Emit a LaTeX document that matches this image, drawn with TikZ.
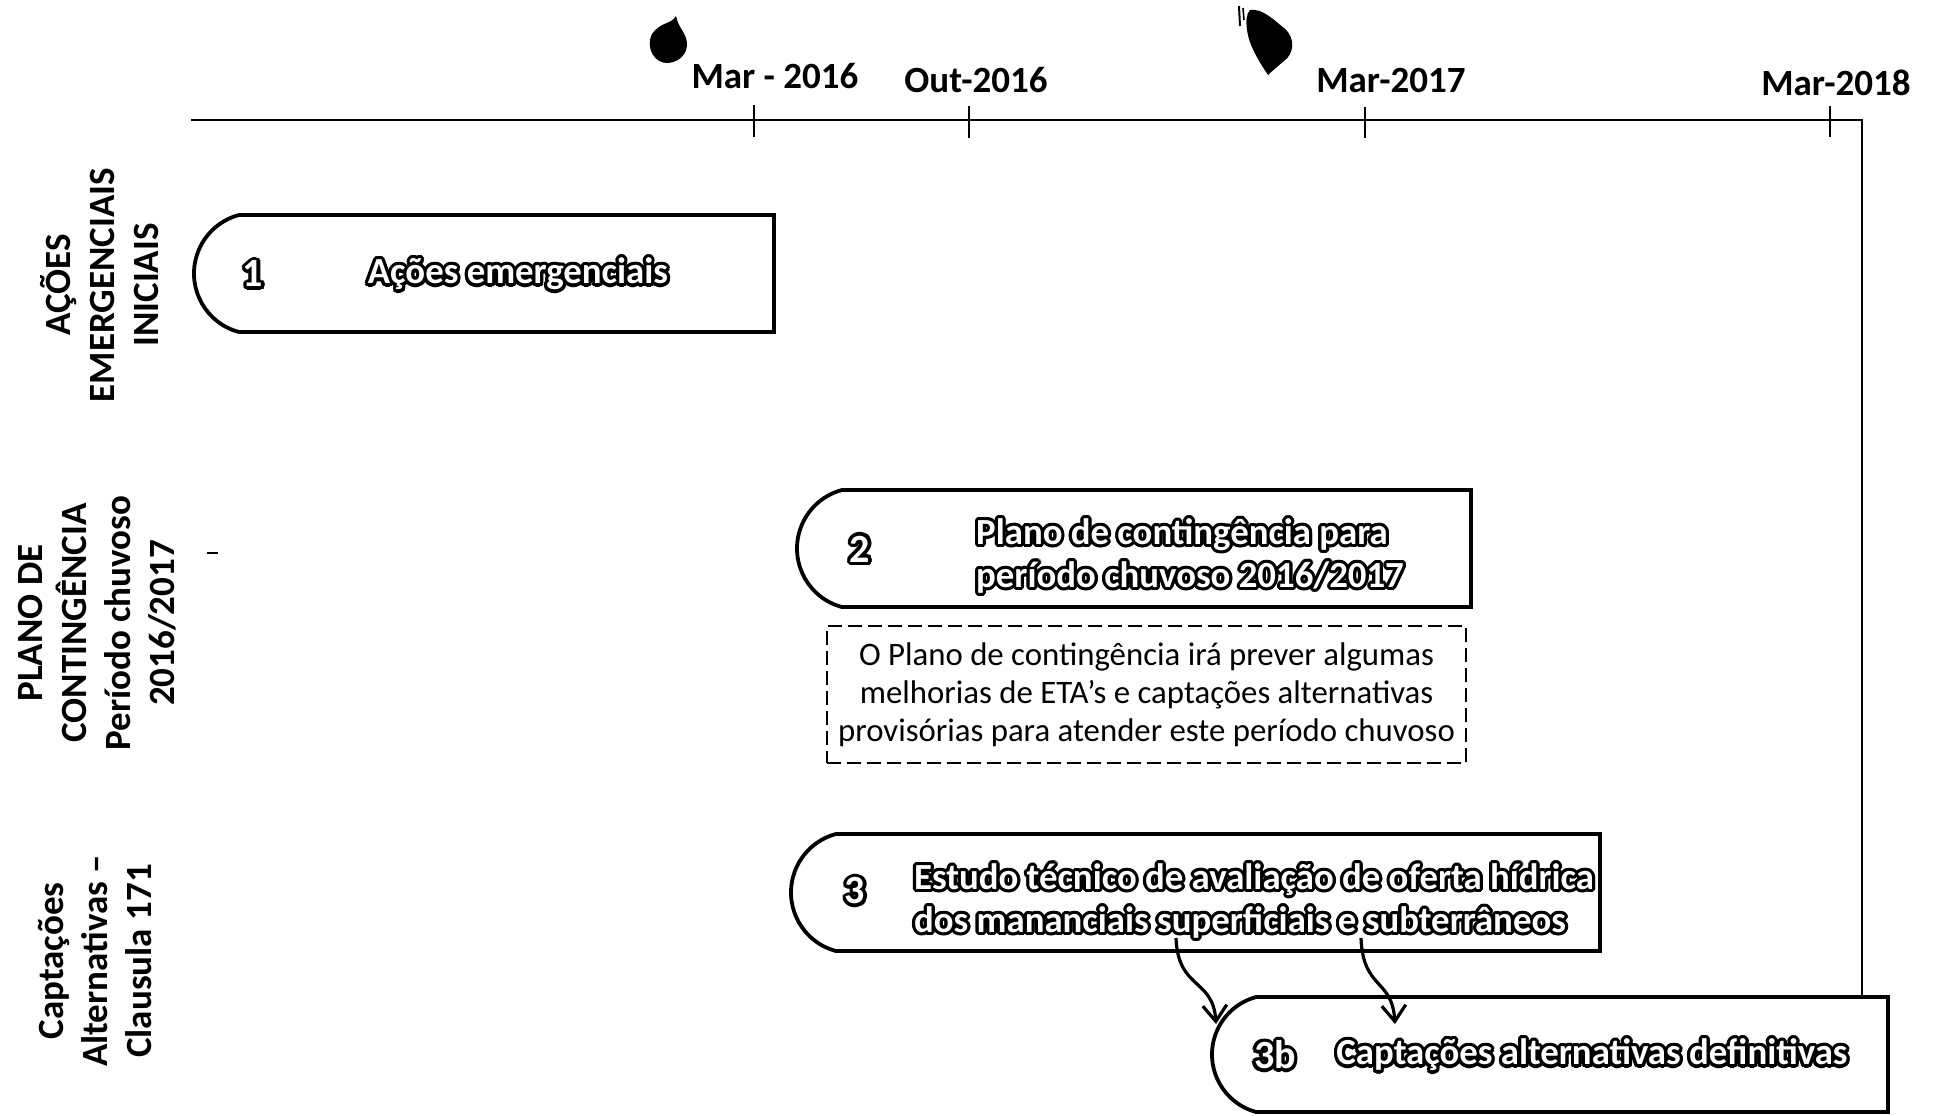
\documentclass[tikz,border=0pt]{standalone}
\usepackage{fontspec}
\setmainfont{Carlito}
\usetikzlibrary{shapes.misc,arrows.meta}

\tikzset{
  stagebox/.style={rounded rectangle, rounded rectangle right arc=none,
    rounded rectangle arc length=150, draw, line width=1.9pt,
    minimum height=58.5pt, inner sep=0pt},
  oltext/.style={font=\fontsize{18.4}{21.5}\selectfont\bfseries, inner sep=0pt},
  lanelabel/.style={rotate=90, align=center, font=\fontsize{18.5}{22}\selectfont\bfseries},
  datelabel/.style={font=\fontsize{18.5}{22}\selectfont\bfseries, inner sep=0pt},
  timeline/.style={line width=1.1pt},
  tickmark/.style={line width=1.4pt},
  notebox/.style={draw, line width=0.8pt, dash pattern=on 7pt off 3pt, align=center,
    font=\fontsize{16.4}{19}\selectfont, minimum width=319.5pt, minimum height=68.5pt},
  flow/.style={line width=1.6pt, -{Straight Barb[length=8pt,width=12pt,line width=1.6pt]}}
}

% white lettering with a black rim: black copies around the white text
\newcommand\outlined[4][center]{%
  \foreach \ang in {0,22.5,...,337.5}{%
    \node[oltext,align=#1,text=black] at ([shift={(\ang:1.6pt)}]#3) {#4};}%
  \node[oltext,align=#1,text=white] (#2) at (#3) {#4};}

\begin{document}
\begin{tikzpicture}[x=0.5pt,y=-0.5pt]
\fill[white] (0,0) rectangle (1935,1115);
\useasboundingbox (0,0) rectangle (1935,1115);

% ink blots above the time axis
\fill (676,16) .. controls (672,24) and (660,22) .. (652,34)
  .. controls (645,48) and (655,64) .. (668,63)
  .. controls (682,62) and (690,50) .. (686,38)
  .. controls (683,30) and (678,26) .. (676,16) -- cycle;
\fill (1250,10) .. controls (1262,8) and (1274,20) .. (1284,28)
  .. controls (1296,38) and (1294,54) .. (1284,61)
  .. controls (1277,67) and (1272,71) .. (1268,75)
  .. controls (1258,60) and (1249,45) .. (1247,30)
  .. controls (1246,22) and (1246,14) .. (1250,10) -- cycle;
\draw[line width=1pt] (1239,6) -- (1240,26);
\draw[line width=0.8pt] (1243,8) -- (1244,20);

% stage boxes
\node[stagebox, minimum width=290pt] (b1) at (484,273.5) {};
\node[stagebox, minimum width=337pt] (b2) at (1134,548.5) {};
\node[stagebox, minimum width=404.5pt] (b3) at (1195.5,892.5) {};
\node[stagebox, minimum width=338pt, minimum height=57.5pt] (b3b) at (1550,1054.5) {};

% time axis
\coordinate (tl0) at (191,120);
\coordinate (tlend) at (1862,120);
\draw[timeline] (tl0) -- (tlend) -- (tlend |- b3b.north);
\draw[tickmark] (754,105) -- (754,137);
\draw[tickmark] (969,106) -- (969,138);
\draw[tickmark] (1365,107) -- (1365,138);
\draw[tickmark] (1830,106) -- (1830,137);

\node[datelabel] (d1) at (775,76) {Mar - 2016};
\node[datelabel] (d2) at (976,80) {Out-2016};
\node[datelabel] (d3) at (1391,80) {Mar-2017};
\node[datelabel] (d4) at (1836,83) {Mar-2018};

% lane titles
\node[lanelabel] (lane1) at (100,285) {AÇÕES\\EMERGENCIAIS\\INICIAIS};
\node[lanelabel] (lane2) at (97,623) {PLANO DE\\CONTINGÊNCIA\\Período chuvoso\\2016/2017};
\node[lanelabel] (lane3) at (95,961) {Captações\\Alternativas –\\Clausula 171};
\draw[line width=0.8pt] (207,553) -- (218,553);

% box contents
\coordinate (n1) at (253,274);
\coordinate (t1) at (518,274);
\coordinate (n2) at (860,549);
\coordinate (t2) at (1190,556);
\coordinate (n3) at (855,891);
\coordinate (t3) at (1254,901);
\coordinate (n3b) at (1275,1055);
\coordinate (t3b) at (1592,1055);
\outlined{n1txt}{n1}{\fontsize{20}{22}\selectfont 1}
\outlined{t1txt}{t1}{Ações emergenciais}
\outlined{n2txt}{n2}{\fontsize{20}{22}\selectfont 2}
\outlined[left]{t2txt}{t2}{Plano de contingência para\\período chuvoso 2016/2017}
\outlined{n3txt}{n3}{\fontsize{20}{22}\selectfont 3}
\outlined[left]{t3txt}{t3}{Estudo técnico de avaliação de oferta hídrica\\dos mananciais superficiais e subterrâneos}
\outlined{n3btxt}{n3b}{\fontsize{20}{22}\selectfont 3b}
\outlined{t3btxt}{t3b}{Captações alternativas definitivas}

% note under stage 2
\node[notebox] (note) at (1146.5,694.5)
  {O Plano de contingência irá prever algumas\\melhorias de ETA’s e captações alternativas\\provisórias para atender este período chuvoso};

% links from stage 3 to stage 3b
\coordinate (a1s) at (1176,938);
\coordinate (a1e) at (1216,1024);
\coordinate (a2s) at (1361,938);
\coordinate (a2e) at (1395,1024);
\draw[flow] (a1s) .. controls (1178,990) and (1213,978) .. (a1e);
\draw[flow] (a2s) .. controls (1363,990) and (1392,978) .. (a2e);
\end{tikzpicture}
\end{document}
